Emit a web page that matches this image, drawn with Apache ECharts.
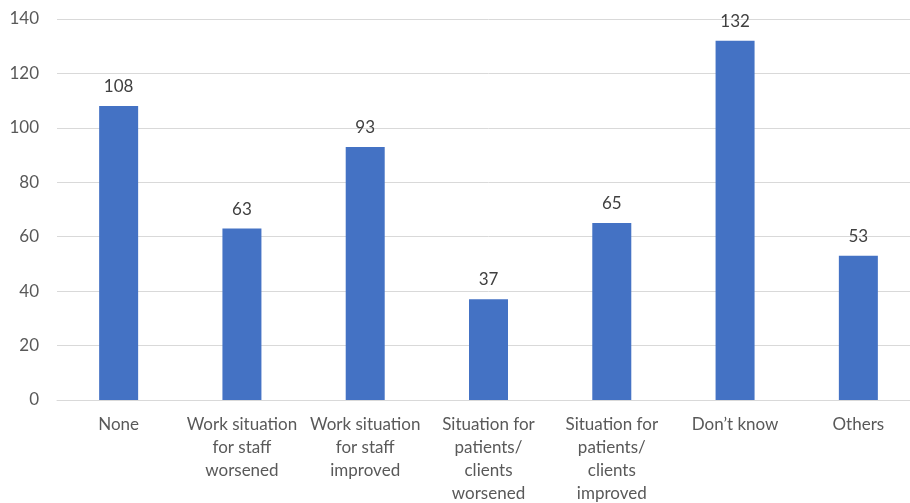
<!DOCTYPE html>
<html>
<head>
<meta charset="utf-8">
<script src="https://cdn.jsdelivr.net/npm/echarts@6/dist/echarts.min.js"></script>
<style>
  html, body { margin: 0; padding: 0; background: #fff; overflow: hidden; }
  /* the plot runs slightly past the right edge of the window */
  #chart { width: 920px; height: 503px; }
</style>
</head>
<body>
<div id="chart"></div>
<script>
// Responses per category
const categories = [
  'None',
  'Work situation\nfor staff\nworsened',
  'Work situation\nfor staff\nimproved',
  'Situation for\npatients/\nclients\nworsened',
  'Situation for\npatients/\nclients\nimproved',
  'Don\u2019t know',
  'Others'
];
const counts = [108, 63, 93, 37, 65, 132, 53];
const yTicks = { min: 0, max: 140, interval: 20 };

const FONT = 'Lato, "Open Sans", sans-serif';

const chart = echarts.init(document.getElementById('chart'), null, { renderer: 'canvas' });
chart.setOption({
  animation: false,
  grid: {
    left: 57, top: 19, right: 0, height: 381,
    containLabel: false,
    outerBoundsMode: 'none'
  },
  xAxis: {
    type: 'category',
    data: categories,
    axisLine: { lineStyle: { color: '#d9d9d9', width: 1 } },
    axisTick: { show: false },
    axisLabel: {
      interval: 0,
      color: '#595959',
      fontFamily: FONT,
      fontSize: 17,
      lineHeight: 23,
      margin: 13,
      verticalAlign: 'top'
    }
  },
  yAxis: {
    type: 'value',
    min: yTicks.min,
    max: yTicks.max,
    interval: yTicks.interval,
    axisLine: { show: false },
    axisTick: { show: false },
    splitLine: { lineStyle: { color: '#d9d9d9', width: 1 } },
    axisLabel: { color: '#595959', fontFamily: FONT, fontSize: 17, margin: 18 }
  },
  series: [{
    type: 'bar',
    data: counts,
    barWidth: 39,
    itemStyle: { color: '#4472c4' },
    label: {
      show: true,
      position: 'top',
      distance: 11,
      color: '#404040',
      fontFamily: FONT,
      fontSize: 17
    }
  }]
});
</script>
</body>
</html>
